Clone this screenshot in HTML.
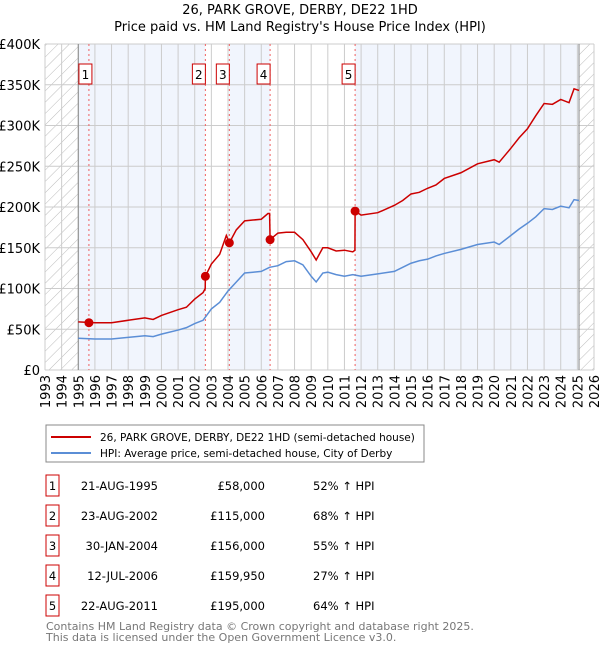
<!DOCTYPE html>
<html><head><meta charset="utf-8"><style>
body{margin:0;background:#fff;font-family:"DejaVu Sans","Liberation Sans",sans-serif;}
svg text{font-family:"DejaVu Sans","Liberation Sans",sans-serif;}
</style></head><body>
<svg id="c" width="600" height="650" xmlns="http://www.w3.org/2000/svg">
<defs><pattern id="hatch" width="8" height="8" patternUnits="userSpaceOnUse" patternTransform="rotate(45)"><line x1="0" y1="0" x2="0" y2="8" stroke="#bbb" stroke-width="1"/></pattern></defs>
<text x="300" y="14" text-anchor="middle" font-size="13">26, PARK GROVE, DERBY, DE22 1HD</text>
<text x="300" y="31" text-anchor="middle" font-size="13">Price paid vs. HM Land Registry's House Price Index (HPI)</text>
<g id="plot"></g>
<g>
<rect x="46" y="425" width="378" height="37" fill="#fff" stroke="#888"/>
<line x1="51" y1="437" x2="91" y2="437" stroke="#cc0000" stroke-width="2"/>
<text x="100" y="441" font-size="10.5">26, PARK GROVE, DERBY, DE22 1HD (semi-detached house)</text>
<line x1="51" y1="453" x2="91" y2="453" stroke="#5b8ed6" stroke-width="2"/>
<text x="100" y="457" font-size="10.5">HPI: Average price, semi-detached house, City of Derby</text>
</g>
<g id="table"></g>
<text x="46" y="630" font-size="11" fill="#777">Contains HM Land Registry data © Crown copyright and database right 2025.</text>
<text x="46" y="641" font-size="11" fill="#777">This data is licensed under the Open Government Licence v3.0.</text>
</svg>
<script>
const hpiYears=[1995.0,1996,1997,1998,1999,1999.5,2000,2001,2001.5,2002,2002.5,2003,2003.5,2004,2004.5,2005,2005.5,2006,2006.5,2007,2007.5,2008,2008.5,2009,2009.3,2009.7,2010,2010.5,2011,2011.5,2012,2013,2014,2014.5,2015,2015.5,2016,2016.5,2017,2018,2019,2020,2020.3,2021,2021.5,2022,2022.5,2023,2023.5,2024,2024.5,2024.8,2025.1];
const hpiValues=[39,38,38,40,42,41,44,49,52,57,61,75,83,97,108,119,120,121,126,128,133,134,129,115,108,119,120,117,115,117,115,118,121,126,131,134,136,140,143,148,154,157,154,165,173,180,188,198,197,201,199,209,208];
const priceYears=[1995.0,1996,1997,1998,1999,1999.5,2000,2001,2001.5,2002,2002.5,2002.63,2002.64,2003,2003.5,2003.9,2004.08,2004.5,2005,2005.5,2006,2006.4,2006.5,2006.53,2007,2007.5,2008,2008.5,2009,2009.3,2009.7,2010,2010.5,2011,2011.5,2011.63,2011.64,2012,2013,2014,2014.5,2015,2015.5,2016,2016.5,2017,2018,2019,2020,2020.3,2021,2021.5,2022,2022.5,2023,2023.5,2024,2024.5,2024.8,2025.1];
const priceValues=[59,58,58,61,64,62,67,74,77,87,95,100,115,130,142,165,156,172,183,184,185,192,192,160,168,169,169,160,145,135,150,150,146,147,145,147,195,190,193,202,208,216,218,223,227,235,242,253,258,255,272,285,296,312,327,326,332,328,345,343];
const saleLabels=["1","2","3","4","5"];
const saleYears=[1995.64,2002.64,2004.08,2006.53,2011.64];
const salePrices=[58,115,156,159.95,195];
const saleDates=["21-AUG-1995","23-AUG-2002","30-JAN-2004","12-JUL-2006","22-AUG-2011"];
const salePriceText=["£58,000","£115,000","£156,000","£159,950","£195,000"];
const saleHpiText=["52% ↑ HPI","68% ↑ HPI","55% ↑ HPI","27% ↑ HPI","64% ↑ HPI"];
const yTicks=[0,50,100,150,200,250,300,350,400];
const yTickLabels=["£0","£50K","£100K","£150K","£200K","£250K","£300K","£350K","£400K"];
const xTicks=[];for(let y=1993;y<=2026;y++)xTicks.push(y);

const NS="http://www.w3.org/2000/svg";
const X0=45,X1=594,Y0=370,Y1=44,XMIN=1993,XMAX=2026,YMAX=400;
const xs=v=>X0+(v-XMIN)/(XMAX-XMIN)*(X1-X0);
const ys=v=>Y0-v/YMAX*(Y0-Y1);
function mk(p,tag,a){const e=document.createElementNS(NS,tag);for(const k in a)e.setAttribute(k,a[k]);p.appendChild(e);return e;}
const plot=document.getElementById('plot');
const dataEnd=2025.1;
let r=mk(plot,'rect',{x:xs(1993),y:Y1,width:xs(1995)-xs(1993),height:Y0-Y1,fill:'url(#hatch)'});


r=mk(plot,'rect',{x:xs(dataEnd),y:Y1,width:X1-xs(dataEnd),height:Y0-Y1,fill:'url(#hatch)'});


const bandStarts=[1995,saleYears[2],saleYears[4]];
const bandEnds=[saleYears[1],saleYears[3],dataEnd];
for(let i=0;i<bandStarts.length;i++){
 const b=mk(plot,'rect',{x:xs(bandStarts[i]),y:Y1,width:xs(bandEnds[i])-xs(bandStarts[i]),height:Y0-Y1,fill:'#eef3fd',opacity:0.8});
 
 
}
for(const t of yTicks){
 const l=mk(plot,'line',{x1:X0,x2:X1,y1:ys(t),y2:ys(t),stroke:'#ccc'});
 
 
 const tx=mk(plot,'text',{x:40,y:ys(t)+5,'text-anchor':'end','font-size':13});
 tx.textContent=yTickLabels[yTicks.indexOf(t)];
 
 
}
for(const t of xTicks){
 const l=mk(plot,'line',{x1:xs(t),x2:xs(t),y1:Y1,y2:Y0,stroke:'#ccc'});
 
 
 const tx=mk(plot,'text',{x:0,y:0,'text-anchor':'end','font-size':13,transform:`translate(${xs(t)+5},375) rotate(-90)`});
 tx.textContent=t;
 
 
}
let bl=mk(plot,'line',{x1:xs(1995),x2:xs(1995),y1:Y1,y2:Y0,stroke:'#888'});


bl=mk(plot,'line',{x1:xs(dataEnd),x2:xs(dataEnd),y1:Y1,y2:Y0,stroke:'#888'});


for(let i=0;i<saleYears.length;i++){
 const l=mk(plot,'line',{x1:xs(saleYears[i]),x2:xs(saleYears[i]),y1:Y1,y2:Y0,stroke:'#f06060','stroke-dasharray':'2,3'});
 
 
}
const hp=mk(plot,'polyline',{points:hpiYears.map((y,i)=>xs(y)+','+ys(hpiValues[i])).join(' '),fill:'none',stroke:'#5b8ed6','stroke-width':1.5});


const pp=mk(plot,'polyline',{points:priceYears.map((y,i)=>xs(y)+','+ys(priceValues[i])).join(' '),fill:'none',stroke:'#cc0000','stroke-width':1.5});


for(let i=0;i<saleYears.length;i++){
 const c=mk(plot,'circle',{cx:xs(saleYears[i]),cy:ys(salePrices[i]),r:4.5,fill:'#cc0000'});
 
 
 const g=mk(plot,'g',{});
 
 
 const bx=xs(saleYears[i])-(i==0?10:13);
 mk(g,'rect',{x:bx,y:64,width:13,height:20,fill:'#fff',stroke:'#cc0000'});
 const t=mk(g,'text',{x:bx+6.5,y:79,'text-anchor':'middle','font-size':12});
 t.textContent=saleLabels[i];
}
const tb=document.getElementById('table');
for(let i=0;i<saleLabels.length;i++){
 const y=483+i*30;
 const row=mk(tb,'g',{});
 
 
 mk(row,'rect',{x:46,y:y-8,width:13,height:21,fill:'#fff',stroke:'#cc0000'});
 let t=mk(row,'text',{x:52.5,y:y+7,'text-anchor':'middle','font-size':11.5});t.textContent=saleLabels[i];
 t=mk(row,'text',{x:158,y:y+7,'text-anchor':'end','font-size':11.5});t.textContent=saleDates[i];
 t=mk(row,'text',{x:265,y:y+7,'text-anchor':'end','font-size':11.5});t.textContent=salePriceText[i];
 t=mk(row,'text',{x:313,y:y+7,'font-size':11.5});t.textContent=saleHpiText[i];
}
</script>
</body></html>
